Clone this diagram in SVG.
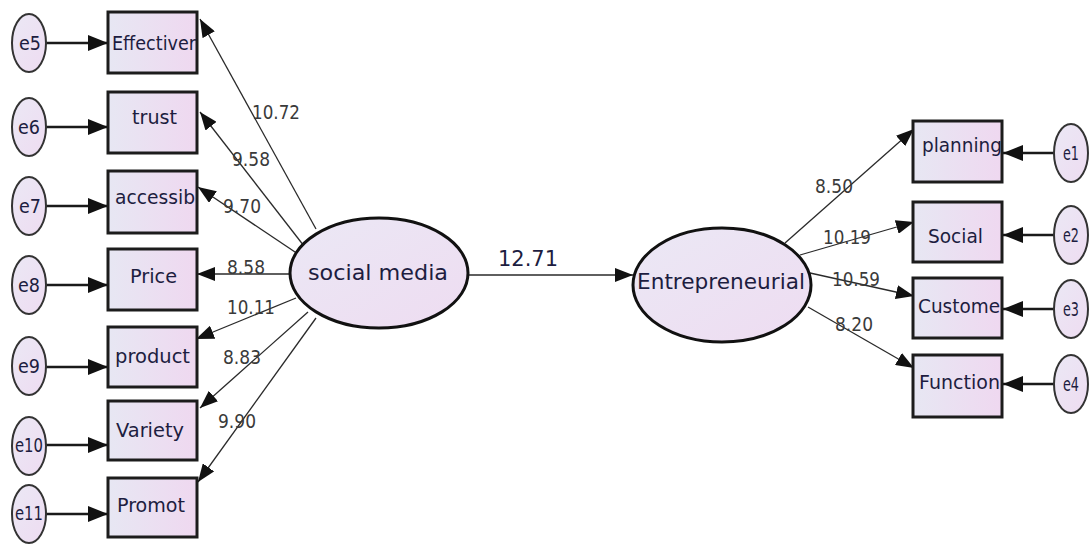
<svg xmlns="http://www.w3.org/2000/svg" width="1091" height="545" viewBox="0 0 1091 545">
  <defs>
    <linearGradient id="boxFill" x1="0" y1="0" x2="1" y2="0">
      <stop offset="0" stop-color="#e7e7f3"/>
      <stop offset="1" stop-color="#efd8f0"/>
    </linearGradient>
    <linearGradient id="ovalFill" x1="0" y1="0" x2="1" y2="1">
      <stop offset="0" stop-color="#ebe8f5"/>
      <stop offset="1" stop-color="#eedcf1"/>
    </linearGradient>
    <marker id="head" markerUnits="userSpaceOnUse" markerWidth="22" markerHeight="16" refX="20" refY="8" orient="auto">
      <path d="M0,0 L20,8 L0,16 z" fill="#111"/>
    </marker>
    <marker id="headSmall" markerUnits="userSpaceOnUse" markerWidth="19" markerHeight="14" refX="18" refY="7" orient="auto">
      <path d="M0,0 L18,7 L0,14 z" fill="#111"/>
    </marker>
    <style>
      .box { fill: url(#boxFill); stroke: #1c1c1c; stroke-width: 3; }
      .latent { fill: url(#ovalFill); stroke: #111; stroke-width: 3; }
      .err { fill: url(#ovalFill); stroke: #333; stroke-width: 2; }
      .lbl { font-family: "DejaVu Sans", sans-serif; font-size: 19px; fill: #1d1d40; }
      .elbl { font-family: "DejaVu Sans", sans-serif; font-size: 19px; fill: #1d1d40; text-anchor: middle; }
      .big { font-family: "DejaVu Sans", sans-serif; font-size: 22px; fill: #1d1d40; }
      .num { font-family: "DejaVu Sans", sans-serif; font-size: 20px; fill: #3a3a3a; }
      .path { stroke: #2a2a2a; stroke-width: 1.3; fill: none; marker-end: url(#headSmall); }
      .errpath { stroke: #1a1a1a; stroke-width: 2.6; fill: none; marker-end: url(#head); }
    </style>
  </defs>

  <rect width="1091" height="545" fill="#ffffff"/>

  <!-- connectors -->
  <g id="connectors">
    <!-- social media indicators -->
    <line class="path" x1="316" y1="229" x2="200" y2="19"/>
    <line class="path" x1="304" y1="246" x2="200" y2="112"/>
    <line class="path" x1="298" y1="254" x2="198" y2="187"/>
    <line class="path" x1="290" y1="274" x2="197" y2="274"/>
    <line class="path" x1="296" y1="298" x2="196" y2="339"/>
    <line class="path" x1="308" y1="312" x2="200" y2="408"/>
    <line class="path" x1="316" y1="318" x2="198" y2="482"/>
    <!-- structural path -->
    <line class="path" x1="468" y1="275" x2="633" y2="275"/>
    <!-- entrepreneurial indicators -->
    <line class="path" x1="785" y1="243" x2="914" y2="129"/>
    <line class="path" x1="800" y1="255" x2="914" y2="222"/>
    <line class="path" x1="810" y1="273" x2="914" y2="296"/>
    <line class="path" x1="808" y1="307" x2="914" y2="368"/>
    <!-- error terms, left -->
    <line class="errpath" x1="46" y1="43" x2="108" y2="43"/>
    <line class="errpath" x1="46" y1="127" x2="108" y2="127"/>
    <line class="errpath" x1="46" y1="206" x2="108" y2="206"/>
    <line class="errpath" x1="46" y1="285" x2="108" y2="285"/>
    <line class="errpath" x1="46" y1="367" x2="108" y2="367"/>
    <line class="errpath" x1="46" y1="445" x2="108" y2="445"/>
    <line class="errpath" x1="46" y1="514" x2="108" y2="514"/>
    <!-- error terms, right -->
    <line class="errpath" x1="1055" y1="153" x2="1003" y2="153"/>
    <line class="errpath" x1="1055" y1="235" x2="1003" y2="235"/>
    <line class="errpath" x1="1055" y1="309" x2="1003" y2="309"/>
    <line class="errpath" x1="1055" y1="384" x2="1003" y2="384"/>
  </g>

  <!-- path coefficients -->
  <g id="coefficients">
    <text class="num" x="252" y="119" textLength="48" lengthAdjust="spacingAndGlyphs">10.72</text>
    <text class="num" x="232" y="166" textLength="38" lengthAdjust="spacingAndGlyphs">9.58</text>
    <text class="num" x="223" y="213" textLength="38" lengthAdjust="spacingAndGlyphs">9.70</text>
    <text class="num" x="227" y="274" textLength="38" lengthAdjust="spacingAndGlyphs">8.58</text>
    <text class="num" x="227" y="314" textLength="48" lengthAdjust="spacingAndGlyphs">10.11</text>
    <text class="num" x="223" y="364" textLength="38" lengthAdjust="spacingAndGlyphs">8.83</text>
    <text class="num" x="218" y="428" textLength="38" lengthAdjust="spacingAndGlyphs">9.90</text>
    <text class="num" x="815" y="193" textLength="38" lengthAdjust="spacingAndGlyphs">8.50</text>
    <text class="num" x="823" y="244" textLength="48" lengthAdjust="spacingAndGlyphs">10.19</text>
    <text class="num" x="832" y="286" textLength="48" lengthAdjust="spacingAndGlyphs">10.59</text>
    <text class="num" x="835" y="331" textLength="38" lengthAdjust="spacingAndGlyphs">8.20</text>
    <text class="big" x="498" y="266" textLength="60" lengthAdjust="spacingAndGlyphs">12.71</text>
  </g>

  <!-- latent variables -->
  <g id="social-media">
    <ellipse class="latent" cx="379" cy="273" rx="89" ry="55"/>
    <text class="big" x="308" y="280" textLength="140" lengthAdjust="spacingAndGlyphs">social media</text>
  </g>
  <g id="entrepreneurial">
    <ellipse class="latent" cx="722" cy="285" rx="89" ry="57"/>
    <text class="big" x="637" y="289" textLength="168" lengthAdjust="spacingAndGlyphs">Entrepreneurial</text>
  </g>

  <!-- observed indicators, left -->
  <g id="effective">
    <rect class="box" x="108" y="12" width="89" height="61"/>
    <text class="lbl" x="112" y="50" textLength="84" lengthAdjust="spacingAndGlyphs">Effectiver</text>
  </g>
  <g id="trust">
    <rect class="box" x="108" y="92" width="89" height="61"/>
    <text class="lbl" x="132" y="124" textLength="45" lengthAdjust="spacingAndGlyphs">trust</text>
  </g>
  <g id="accessib">
    <rect class="box" x="108" y="171" width="89" height="62"/>
    <text class="lbl" x="115" y="204" textLength="80" lengthAdjust="spacingAndGlyphs">accessib</text>
  </g>
  <g id="price">
    <rect class="box" x="108" y="249" width="89" height="61"/>
    <text class="lbl" x="130" y="283" textLength="47" lengthAdjust="spacingAndGlyphs">Price</text>
  </g>
  <g id="product">
    <rect class="box" x="108" y="327" width="89" height="60"/>
    <text class="lbl" x="115" y="363" textLength="75" lengthAdjust="spacingAndGlyphs">product</text>
  </g>
  <g id="variety">
    <rect class="box" x="108" y="401" width="89" height="59"/>
    <text class="lbl" x="116" y="437" textLength="68" lengthAdjust="spacingAndGlyphs">Variety</text>
  </g>
  <g id="promot">
    <rect class="box" x="108" y="478" width="89" height="59"/>
    <text class="lbl" x="117" y="512" textLength="68" lengthAdjust="spacingAndGlyphs">Promot</text>
  </g>

  <!-- observed indicators, right -->
  <g id="planning">
    <rect class="box" x="913" y="121" width="89" height="61"/>
    <text class="lbl" x="922" y="152" textLength="80" lengthAdjust="spacingAndGlyphs">planning</text>
  </g>
  <g id="social">
    <rect class="box" x="913" y="202" width="89" height="60"/>
    <text class="lbl" x="928" y="243" textLength="55" lengthAdjust="spacingAndGlyphs">Social</text>
  </g>
  <g id="custome">
    <rect class="box" x="913" y="278" width="89" height="60"/>
    <text class="lbl" x="918" y="313" textLength="82" lengthAdjust="spacingAndGlyphs">Custome</text>
  </g>
  <g id="function">
    <rect class="box" x="913" y="355" width="89" height="62"/>
    <text class="lbl" x="919" y="389" textLength="81" lengthAdjust="spacingAndGlyphs">Function</text>
  </g>

  <!-- error terms, left -->
  <g id="e5"><ellipse class="err" cx="29" cy="43" rx="17" ry="29"/><text class="elbl" x="30" y="50" textLength="22" lengthAdjust="spacingAndGlyphs">e5</text></g>
  <g id="e6"><ellipse class="err" cx="29" cy="127" rx="17" ry="29"/><text class="elbl" x="29" y="134" textLength="22" lengthAdjust="spacingAndGlyphs">e6</text></g>
  <g id="e7"><ellipse class="err" cx="29" cy="206" rx="17" ry="29"/><text class="elbl" x="30" y="213" textLength="22" lengthAdjust="spacingAndGlyphs">e7</text></g>
  <g id="e8"><ellipse class="err" cx="29" cy="285" rx="17" ry="29"/><text class="elbl" x="29" y="292" textLength="22" lengthAdjust="spacingAndGlyphs">e8</text></g>
  <g id="e9"><ellipse class="err" cx="29" cy="366" rx="17" ry="29"/><text class="elbl" x="29" y="373" textLength="22" lengthAdjust="spacingAndGlyphs">e9</text></g>
  <g id="e10"><ellipse class="err" cx="29" cy="446" rx="17" ry="29"/><text class="elbl" x="29" y="452" font-size="15" textLength="28" lengthAdjust="spacingAndGlyphs">e10</text></g>
  <g id="e11"><ellipse class="err" cx="29" cy="514" rx="17" ry="29"/><text class="elbl" x="29" y="520" font-size="15" textLength="28" lengthAdjust="spacingAndGlyphs">e11</text></g>

  <!-- error terms, right -->
  <g id="e1"><ellipse class="err" cx="1071" cy="153" rx="17" ry="29"/><text class="elbl" x="1071" y="160" textLength="16" lengthAdjust="spacingAndGlyphs">e1</text></g>
  <g id="e2"><ellipse class="err" cx="1071" cy="235" rx="17" ry="29"/><text class="elbl" x="1071" y="242" textLength="16" lengthAdjust="spacingAndGlyphs">e2</text></g>
  <g id="e3"><ellipse class="err" cx="1071" cy="309" rx="17" ry="29"/><text class="elbl" x="1071" y="316" textLength="16" lengthAdjust="spacingAndGlyphs">e3</text></g>
  <g id="e4"><ellipse class="err" cx="1071" cy="384" rx="17" ry="29"/><text class="elbl" x="1071" y="391" textLength="16" lengthAdjust="spacingAndGlyphs">e4</text></g>
</svg>
